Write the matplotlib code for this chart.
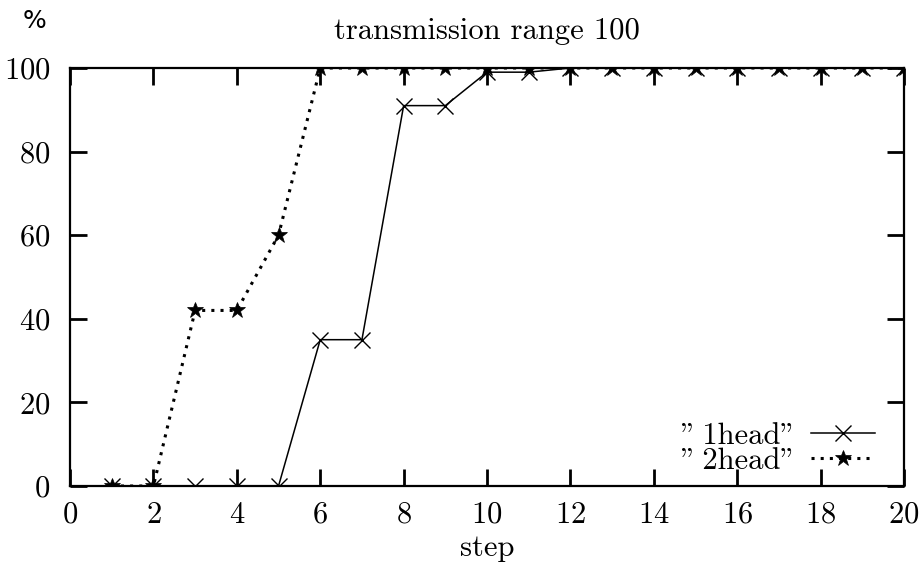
"""Доля узлов по шагам: 1head vs 2head, transmission range 100."""

import matplotlib
matplotlib.use("Agg")
import matplotlib.pyplot as plt

plt.rcParams["font.family"] = ["cmr10", "DejaVu Serif"]
plt.rcParams["axes.formatter.use_mathtext"] = True
plt.rcParams["mathtext.fontset"] = "cm"

steps = list(range(1, 21))
one_head = [0, 0, 0, 0, 0, 35, 35, 91, 91, 99, 99, 100, 100, 100, 100, 100, 100, 100, 100, 100]
two_head = [0, 0, 42, 42, 60, 100, 100, 100, 100, 100, 100, 100, 100, 100, 100, 100, 100, 100, 100, 100]

x_ticks = list(range(0, 21, 2))
y_ticks = list(range(0, 101, 20))

fig = plt.figure(figsize=(9.24, 5.69), dpi=100)
ax = fig.add_axes([0.0758, 0.1459, 0.9026, 0.7346])

ax.plot(steps, one_head, color="black", linewidth=1.1, marker="x",
        markersize=11, markeredgewidth=1.0, label='"\u20091head"')
ax.plot(steps, two_head, color="black", linewidth=2.2, linestyle=(0, (1, 2)),
        marker="*", markersize=12, markeredgewidth=0.5, label='"\u20092head"')

ax.set_xlim(0, 20)
ax.set_ylim(0, 100)
ax.set_xticks(x_ticks)
ax.set_yticks(y_ticks)
ax.tick_params(direction="in", length=12, width=2, labelsize=22,
               top=True, right=True)
ax.tick_params(axis="x", pad=11)
ax.tick_params(axis="y", pad=14)
for sp in ax.spines.values():
    sp.set_linewidth(1.6)

ax.set_xlabel("step", fontsize=22, labelpad=4)
ax.set_title("transmission range 100", fontsize=22, pad=21)
fig.text(0.025, 0.95, "%", fontsize=18, family="DejaVu Sans")

ax.legend(loc="lower right", frameon=False, markerfirst=False, fontsize=22,
          handlelength=2.1, handletextpad=0.5, labelspacing=-0.08,
          borderpad=0.0, borderaxespad=0.0, bbox_to_anchor=(0.965, 0.026))

fig.savefig("out.png", dpi=100)
plt.close(fig)
